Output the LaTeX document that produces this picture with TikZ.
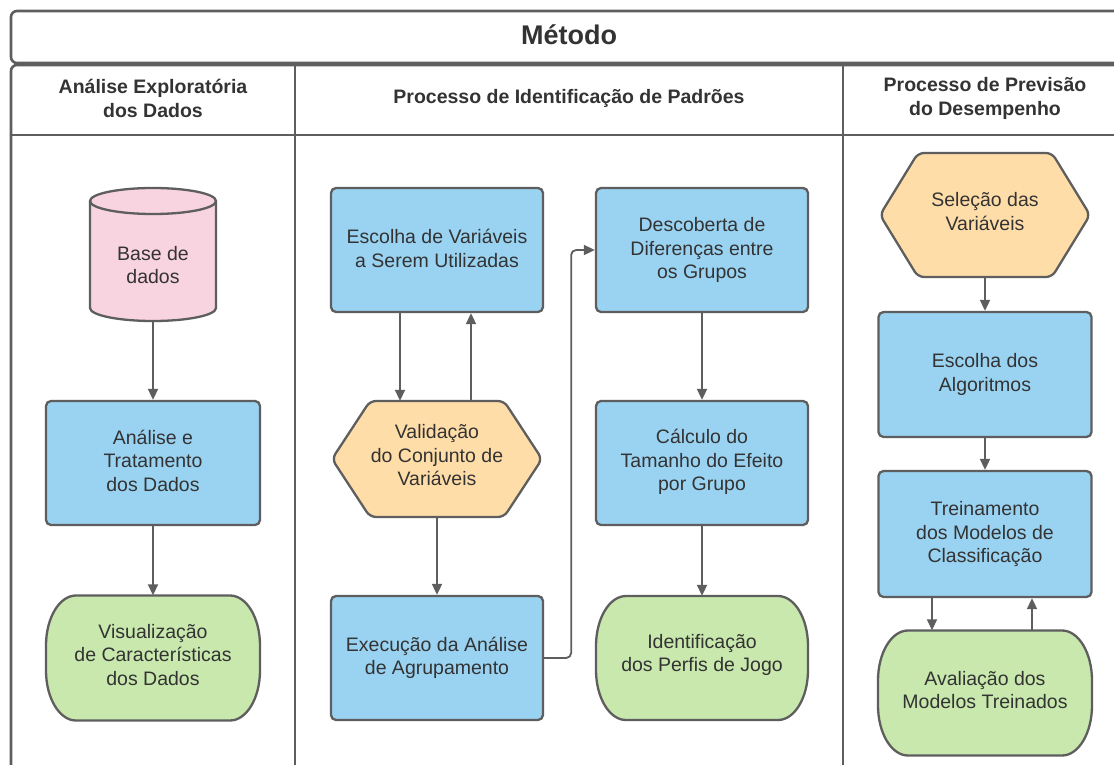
\documentclass[tikz,border=0pt]{standalone}
\usepackage{fontspec}
\setmainfont{Liberation Sans}
\usetikzlibrary{arrows.meta}

\definecolor{linegray}{HTML}{5E5E5E}
\definecolor{txtgray}{HTML}{333333}
\definecolor{boxblue}{HTML}{9AD3F2}
\definecolor{dbpink}{HTML}{F8D3E0}
\definecolor{hexorange}{HTML}{FFDDA8}
\definecolor{termgreen}{HTML}{C8E8AD}

\tikzset{
  frame/.style={draw=linegray, line width=2.6pt},
  shapeline/.style={draw=linegray, line width=2.3pt, line join=round},
  bodytext/.style={text=txtgray, align=center, inner sep=0pt,
    font=\fontsize{19.5}{23.5}\selectfont},
  headtext/.style={text=txtgray, align=center, inner sep=0pt,
    font=\fontsize{19.5}{24}\selectfont\bfseries},
  titletext/.style={text=txtgray, inner sep=0pt,
    font=\fontsize{27}{32}\selectfont\bfseries},
  procbox/.style={shapeline, fill=boxblue, rounded corners=5pt, inner sep=0pt,
    minimum width=212pt, minimum height=124pt},
  anchorbox/.style={inner sep=0pt},
  arr/.style={draw=linegray, line width=1.8pt,
    -{Triangle[length=11pt,width=10pt]}},
}

\def\bzk{0.5523}% Bezier constant for quarter ellipses

% process box with its caption: name, cx, cy, text dy, text
\newcommand\procnode[5]{%
  \node[procbox] (#1) at (#2,#3) {};
  \node[bodytext] (#1-t) at (#2,{#3+#4}) {#5};}

% rounded hexagon: name, cx, cy, width, height, text
\newcommand\hexnode[6]{%
  \draw[shapeline, fill=hexorange, rounded corners=6pt]
    ({#2-#4/2},#3) -- ({#2-#4/2+38},{#3-#5/2}) -- ({#2+#4/2-38},{#3-#5/2})
    -- ({#2+#4/2},#3) -- ({#2+#4/2-38},{#3+#5/2}) -- ({#2-#4/2+38},{#3+#5/2})
    -- cycle;
  \node[anchorbox, minimum width=#4pt, minimum height=#5pt] (#1) at (#2,#3) {};
  \node[bodytext] (#1-t) at (#2,{#3-3.5}) {#6};}

% terminator with elliptical ends: name, cx, cy, width, height, text
\newcommand\termnode[6]{%
  \def\termrx{30}\def\termry{50}%
  \draw[shapeline, fill=termgreen]
    ({#2-#4/2},{#3-#5/2+\termry})
      .. controls ({#2-#4/2},{#3-#5/2+\termry-\bzk*\termry}) and ({#2-#4/2+\termrx-\bzk*\termrx},{#3-#5/2}) ..
    ({#2-#4/2+\termrx},{#3-#5/2}) -- ({#2+#4/2-\termrx},{#3-#5/2})
      .. controls ({#2+#4/2-\termrx+\bzk*\termrx},{#3-#5/2}) and ({#2+#4/2},{#3-#5/2+\termry-\bzk*\termry}) ..
    ({#2+#4/2},{#3-#5/2+\termry}) -- ({#2+#4/2},{#3+#5/2-\termry})
      .. controls ({#2+#4/2},{#3+#5/2-\termry+\bzk*\termry}) and ({#2+#4/2-\termrx+\bzk*\termrx},{#3+#5/2}) ..
    ({#2+#4/2-\termrx},{#3+#5/2}) -- ({#2-#4/2+\termrx},{#3+#5/2})
      .. controls ({#2-#4/2+\termrx-\bzk*\termrx},{#3+#5/2}) and ({#2-#4/2},{#3+#5/2-\termry+\bzk*\termry}) ..
    ({#2-#4/2},{#3+#5/2-\termry}) -- cycle;
  \node[anchorbox, minimum width=#4pt, minimum height=#5pt] (#1) at (#2,#3) {};
  \node[bodytext] (#1-t) at (#2,{#3-3}) {#6};}

\begin{document}
\begin{tikzpicture}[x=1pt, y=-1pt]
\useasboundingbox (0,0) rectangle (1114,765);
\clip (0,0) rectangle (1114,765);
\fill[white] (0,0) rectangle (1114,765);

% outer frame: title band and three swimlanes
\draw[frame, rounded corners=6pt] (11,11) rectangle (1127,63);
\draw[frame, rounded corners=6pt] (11,65) rectangle (1127,820);
\draw[frame] (11,135) -- (1127,135);
\draw[frame] (295,65) -- (295,820);
\draw[frame] (843,65) -- (843,820);

\node[titletext] (title) at (569,35) {Método};
\node[headtext] (h1) at (153,98) {Análise Exploratória\\dos Dados};
\node[headtext] (h2) at (569,98) {Processo de Identificação de Padrões};
\node[headtext] (h3) at (985,98) {Processo de Previsão\\do Desempenho};

% ---- lane 1: database cylinder
\def\cylL{90}\def\cylR{216}\def\cylX{153}\def\cylT{188}\def\cylB{321}\def\cylr{13}\def\cylrx{63}
\draw[shapeline, fill=dbpink]
  (\cylL,{\cylT+\cylr}) -- (\cylL,{\cylB-\cylr})
  .. controls (\cylL,{\cylB-\cylr+\bzk*\cylr}) and ({\cylX-\bzk*\cylrx},\cylB) .. (\cylX,\cylB)
  .. controls ({\cylX+\bzk*\cylrx},\cylB) and (\cylR,{\cylB-\cylr+\bzk*\cylr}) .. (\cylR,{\cylB-\cylr})
  -- (\cylR,{\cylT+\cylr})
  .. controls (\cylR,{\cylT+\cylr-\bzk*\cylr}) and ({\cylX+\bzk*\cylrx},\cylT) .. (\cylX,\cylT)
  .. controls ({\cylX-\bzk*\cylrx},\cylT) and (\cylL,{\cylT+\cylr-\bzk*\cylr}) .. (\cylL,{\cylT+\cylr})
  -- cycle;
\draw[shapeline]
  (\cylL,{\cylT+\cylr})
  .. controls (\cylL,{\cylT+\cylr+\bzk*\cylr}) and ({\cylX-\bzk*\cylrx},{\cylT+2*\cylr}) .. (\cylX,{\cylT+2*\cylr})
  .. controls ({\cylX+\bzk*\cylrx},{\cylT+2*\cylr}) and (\cylR,{\cylT+\cylr+\bzk*\cylr}) .. (\cylR,{\cylT+\cylr});
\node[anchorbox, minimum width=126pt, minimum height=133pt] (db) at (153,254.5) {};
\node[bodytext] (db-t) at (153,265) {Base de\\dados};

\tikzset{procbox/.append style={minimum width=214pt}}
\procnode{ana}{153}{463}{-2.5}{Análise e\\Tratamento\\dos Dados}
\tikzset{procbox/.append style={minimum width=212pt}}
\termnode{vis}{153}{658}{214}{125}{Visualização\\de Características\\dos Dados}

\draw[arr] (db.south) -- (ana.north);
\draw[arr] (ana.south) -- (vis.north);

% ---- lane 2: pattern identification
\procnode{esc}{437}{250}{-1.5}{Escolha de Variáveis\\a Serem Utilizadas}
\hexnode{val}{437}{459}{210}{116}{Validação\\do Conjunto de\\Variáveis}
\procnode{exe}{437}{658}{0}{Execução da Análise\\de Agrupamento}
\procnode{desc}{702}{250}{0}{Descoberta de\\Diferenças entre\\os Grupos}
\procnode{calc}{702}{463}{-1}{Cálculo do\\Tamanho do Efeito\\por Grupo}
\termnode{ident}{702}{658}{212}{124}{Identificação\\dos Perfis de Jogo}

\draw[arr] ([xshift=-37pt]esc.south) -- ([xshift=-37pt]val.north);
\draw[arr] ([xshift=34pt]val.north) -- ([xshift=34pt]esc.south);
\draw[arr] (val.south) -- (exe.north);
\draw[arr, rounded corners=5pt] (exe.east) -- ++(27,0) |- (desc.west);
\draw[arr] (desc.south) -- (calc.north);
\draw[arr] (calc.south) -- (ident.north);

% ---- lane 3: performance prediction
\hexnode{sel}{985}{215}{210}{124}{Seleção das\\Variáveis}
\tikzset{procbox/.append style={minimum width=213pt, minimum height=125pt}}
\procnode{alg}{985}{374.5}{0}{Escolha dos\\Algoritmos}
\tikzset{procbox/.append style={minimum height=126pt}}
\procnode{trein}{985}{534}{0}{Treinamento\\dos Modelos de\\Classificação}
\termnode{aval}{985}{693}{214}{125}{Avaliação dos\\Modelos Treinados}

\draw[arr] (sel.south) -- (alg.north);
\draw[arr] (alg.south) -- (trein.north);
\draw[arr] ([xshift=-53pt]trein.south) -- ([xshift=-53pt]aval.north);
\draw[arr] ([xshift=47pt]aval.north) -- ([xshift=47pt]trein.south);
\end{tikzpicture}
\end{document}
